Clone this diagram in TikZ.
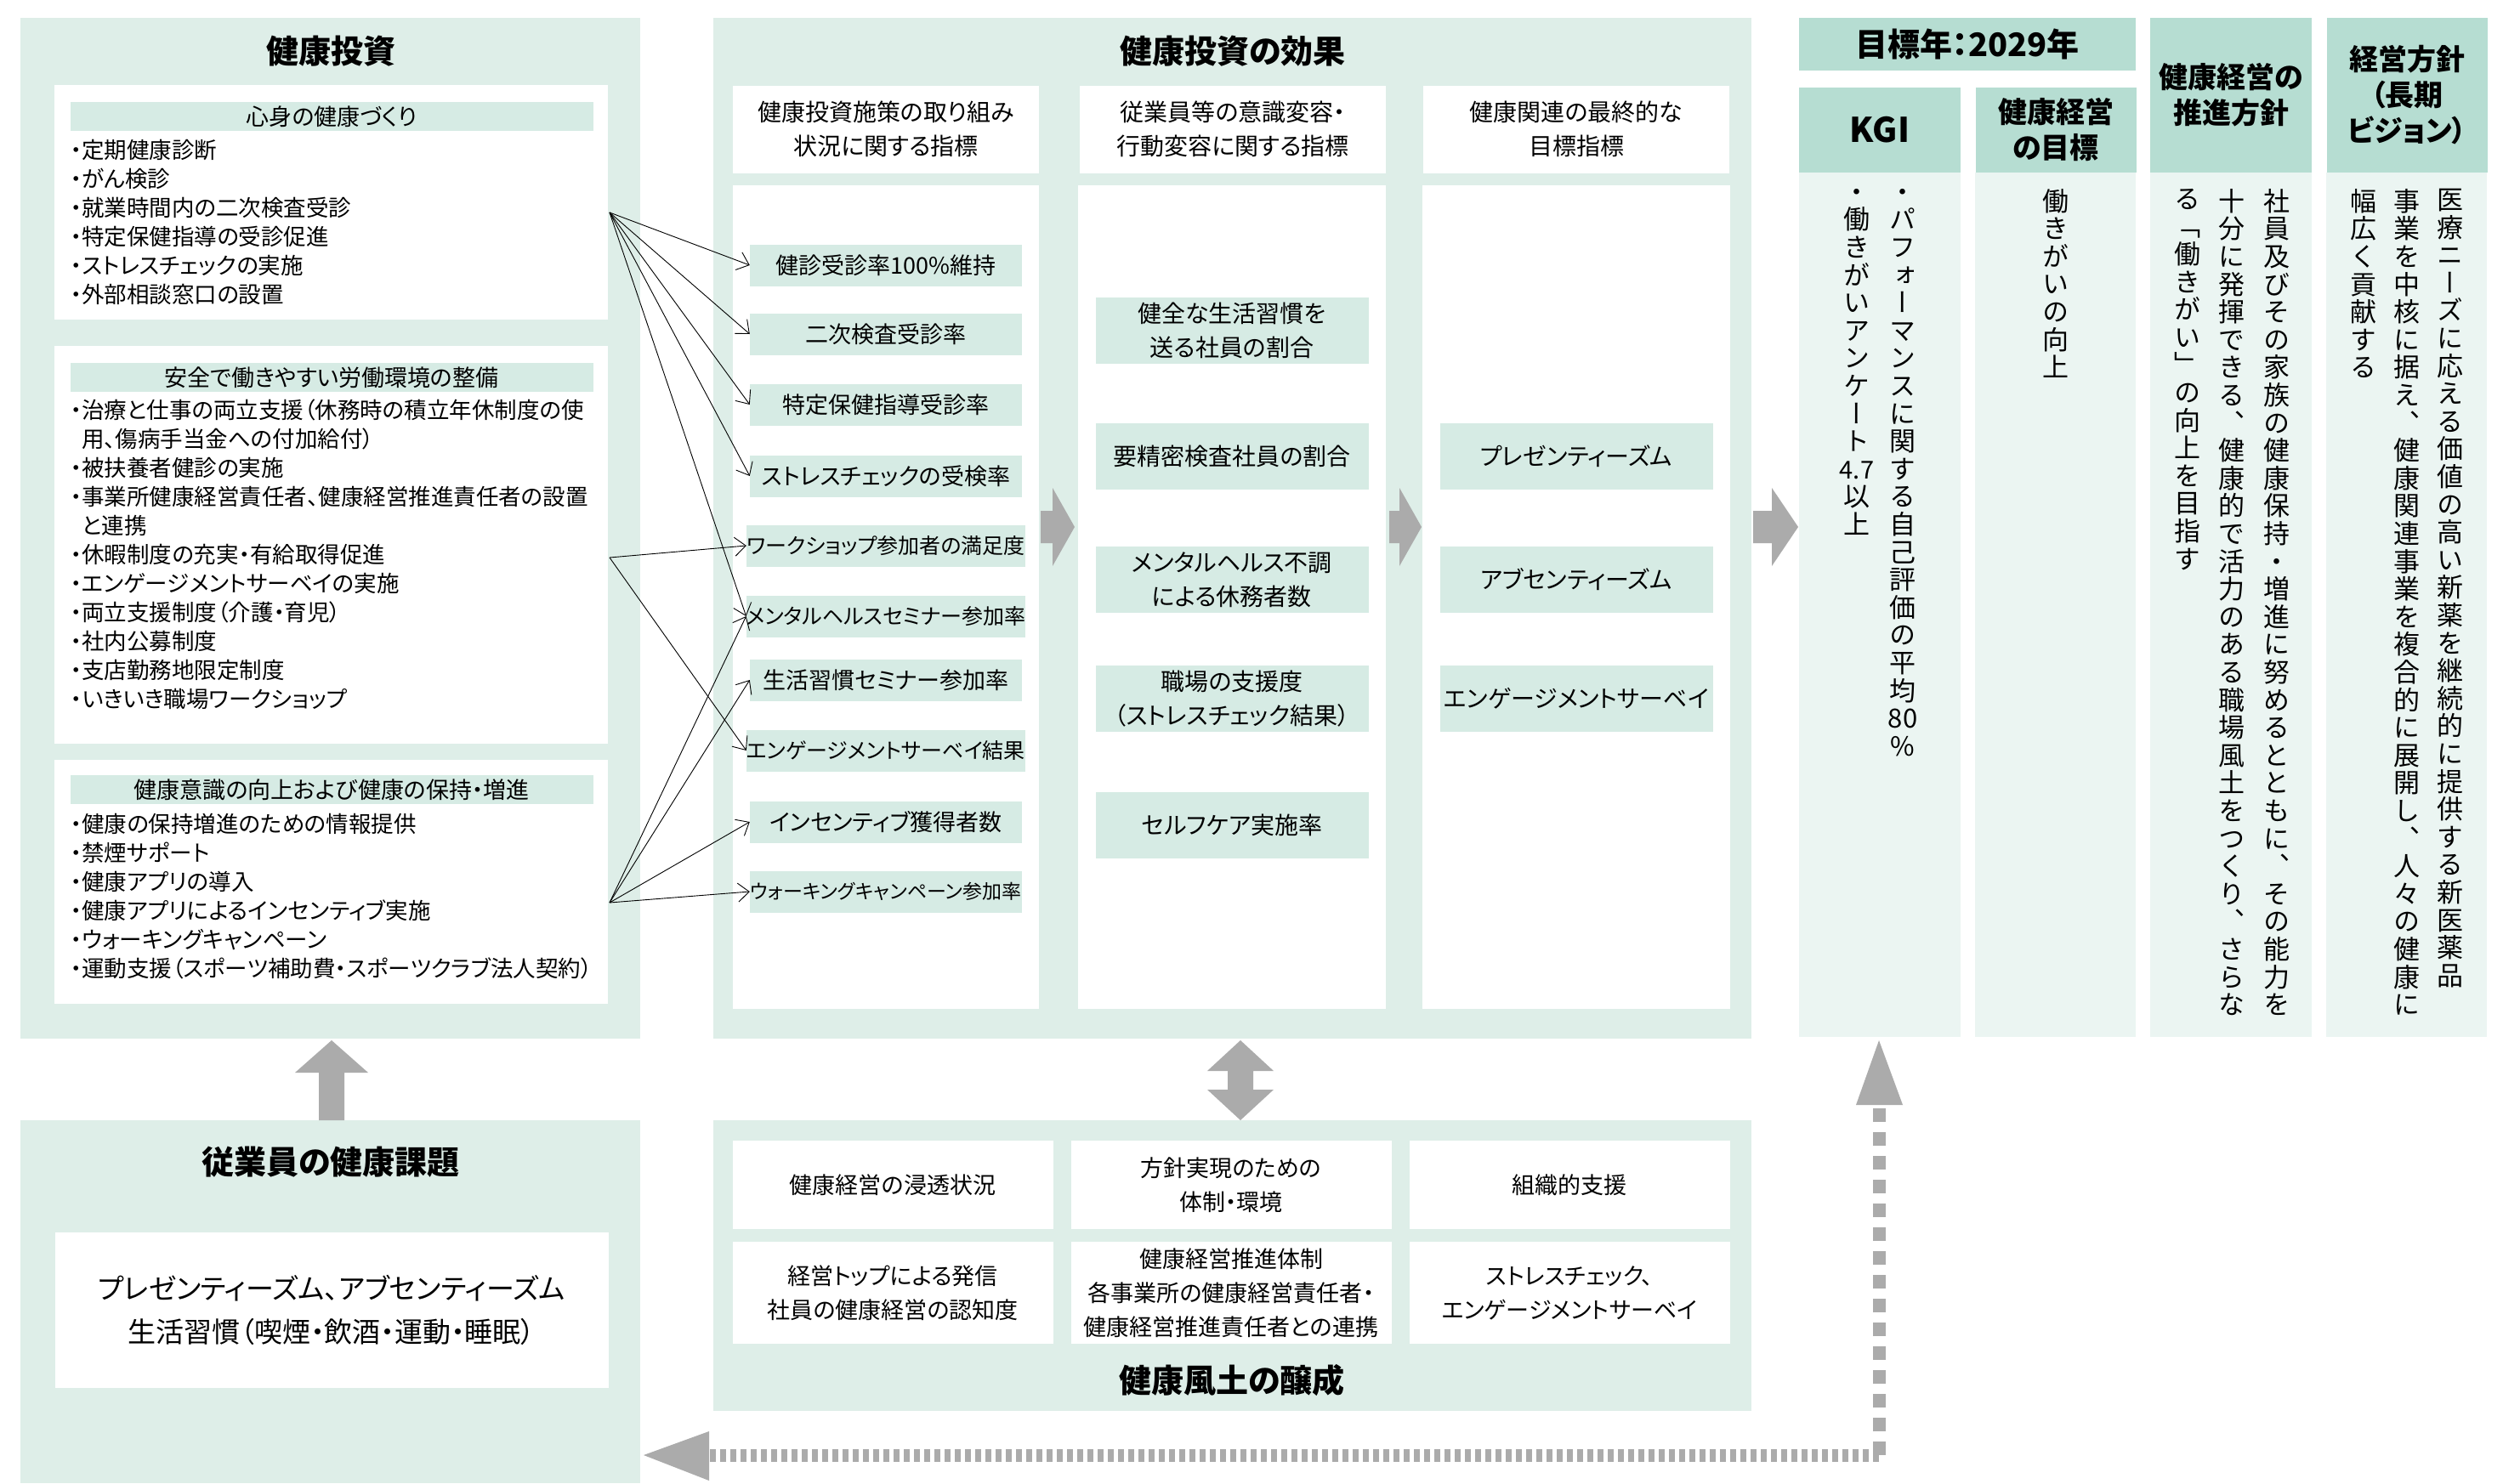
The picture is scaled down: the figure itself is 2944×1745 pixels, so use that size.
\documentclass[tikz,border=0pt]{standalone}
\usepackage{fontspec}
\setmainfont[RawFeature={+palt}]{Noto Sans CJK JP}
\newfontfamily\vjp[RawFeature={+vert}]{Noto Sans CJK JP}
\usetikzlibrary{arrows.meta}
\definecolor{panel}{HTML}{DEEEE8}
\definecolor{itembg}{HTML}{D6EBE4}
\definecolor{band}{HTML}{B6DDD2}
\definecolor{light}{HTML}{EBF5F2}
\definecolor{fat}{HTML}{ABABAB}
\ExplSyntaxOn
\NewDocumentCommand\vcol{m}{
  \vbox{\baselineskip=32.6pt \lineskiplimit=-100pt \lineskip=0pt
    \tl_map_inline:nn {#1} { \hbox_to_wd:nn {1em} {\hss ##1 \hss} } }
}
\ExplSyntaxOff
\begin{document}
\begin{tikzpicture}[x=1pt,y=-1pt,
  pnl/.style={fill=panel,draw=none},
  wht/.style={fill=white,draw=none},
  ttl/.style={font=\bfseries\fontsize{38}{42}\selectfont,inner sep=0},
  lst/.style={font=\fontsize{26.5}{34}\selectfont,align=left,anchor=north west,inner sep=0},
  hb/.style={fill=itembg,minimum width=615pt,minimum height=34pt,inner sep=0,font=\fontsize{27}{30}\selectfont},
  it1/.style={fill=itembg,minimum width=320pt,minimum height=49pt,inner sep=0,font=\fontsize{27}{30}\selectfont},
  it2/.style={fill=itembg,minimum width=321pt,minimum height=78pt,inner sep=0,align=center,font=\fontsize{28}{40}\selectfont},
  chd/.style={fill=white,minimum width=360pt,minimum height=103pt,inner sep=0,align=center,font=\fontsize{28}{40}\selectfont},
  cell/.style={fill=white,minimum width=377pt,inner sep=0,align=center,font=\fontsize{27}{40}\selectfont},
  con/.style={line width=0.9pt,-{Straight Barb[length=13pt,width=22pt]}},
  vt/.style={font=\vjp\fontsize{31}{33}\selectfont,anchor=north,inner sep=0},
  rh/.style={fill=band,inner sep=0,align=center,font=\bfseries\fontsize{34}{42}\selectfont},
  fa/.style={fill=fat,draw=none}]
\useasboundingbox (0,0) rectangle (2944,1745);
\fill[white] (0,0) rectangle (2944,1745);

% ===== left panel
\fill[pnl] (24,21) rectangle (753,1222);
\node[ttl] (t1) at (389,60) {健康投資};
\fill[wht] (64,100) rectangle (715,376);
\fill[wht] (64,407) rectangle (715,875);
\fill[wht] (64,894) rectangle (715,1181);
\node[hb] (h1) at (390,137) {心身の健康づくり};
\node[hb] (h2) at (390,444) {安全で働きやすい労働環境の整備};
\node[hb] (h3) at (390,929) {健康意識の向上および健康の保持・増進};
\node[lst] (l1) at (83,164) {・定期健康診断\\・がん検診\\・就業時間内の二次検査受診\\・特定保健指導の受診促進\\・ストレスチェックの実施\\・外部相談窓口の設置};
\node[lst] (l2) at (83,470) {・治療と仕事の両立支援（休務時の積立年休制度の使\\\hspace*{13pt}用、傷病手当金への付加給付）\\・被扶養者健診の実施\\・事業所健康経営責任者、健康経営推進責任者の設置\\\hspace*{13pt}と連携\\・休暇制度の充実・有給取得促進\\・エンゲージメントサーベイの実施\\・両立支援制度（介護・育児）\\・社内公募制度\\・支店勤務地限定制度\\・いきいき職場ワークショップ};
\node[lst] (l3) at (83,957) {・健康の保持増進のための情報提供\\・禁煙サポート\\・健康アプリの導入\\・健康アプリによるインセンティブ実施\\・ウォーキングキャンペーン\\・運動支援（スポーツ補助費・スポーツクラブ法人契約）};
\coordinate (o1) at (717,250);
\coordinate (o2) at (717,656);
\coordinate (o3) at (717,1062);

% ===== middle panel
\fill[pnl] (839,21) rectangle (2060,1222);
\node[ttl] (t2) at (1450,60) {健康投資の効果};
\node[chd] (c1) at (1042,152) {健康投資施策の取り組み\\状況に関する指標};
\node[chd] (c2) at (1450,152) {従業員等の意識変容・\\行動変容に関する指標};
\node[chd] (c3) at (1854,152) {健康関連の最終的な\\目標指標};
\fill[wht] (862,218) rectangle (1222,1187);
\fill[wht] (1268,218) rectangle (1630,1187);
\fill[wht] (1673,218) rectangle (2035,1187);
\node[it1] (a1) at (1042,312) {健診受診率100\%維持};
\node[it1] (a2) at (1042,393) {二次検査受診率};
\node[it1] (a3) at (1042,476) {特定保健指導受診率};
\node[it1] (a4) at (1042,560) {ストレスチェックの受検率};
\node[it1] (a5) at (1042,642) {\fontsize{25}{30}\selectfont ワークショップ参加者の満足度};
\node[it1] (a6) at (1042,725) {\fontsize{25}{30}\selectfont メンタルヘルスセミナー参加率};
\node[it1] (a7) at (1042,800) {生活習慣セミナー参加率};
\node[it1] (a8) at (1042,883) {\fontsize{25}{30}\selectfont エンゲージメントサーベイ結果};
\node[it1] (a9) at (1042,967) {インセンティブ獲得者数};
\node[it1] (a10) at (1042,1049) {\fontsize{23}{30}\selectfont ウォーキングキャンペーン参加率};
\node[it2] (b1) at (1449,389) {健全な生活習慣を\\送る社員の割合};
\node[it2] (b2) at (1449,537) {要精密検査社員の割合};
\node[it2] (b3) at (1449,682) {メンタルヘルス不調\\による休務者数};
\node[it2] (b4) at (1449,822) {職場の支援度\\（ストレスチェック結果）};
\node[it2] (b5) at (1449,971) {セルフケア実施率};
\node[it2] (d1) at (1854,537) {プレゼンティーズム};
\node[it2] (d2) at (1854,682) {アブセンティーズム};
\node[it2] (d3) at (1854,822) {エンゲージメントサーベイ};

% connectors
\foreach \t in {a1,a2,a3,a4,a6} \draw[con] (o1) -- (\t.west);
\foreach \t in {a5,a8} \draw[con] (o2) -- (\t.west);
\foreach \t in {a6,a7,a9,a10} \draw[con] (o3) -- (\t.west);

% fat arrows between columns
\fill[fa] (1224,601) -- (1238,601) -- (1238,574) -- (1264,620) -- (1238,666) -- (1238,639) -- (1224,639) -- cycle;
\fill[fa] (1634,601) -- (1646,601) -- (1646,574) -- (1672,620) -- (1646,666) -- (1646,639) -- (1634,639) -- cycle;
\fill[fa] (2062,601) -- (2084,601) -- (2084,574) -- (2115,620) -- (2084,666) -- (2084,639) -- (2062,639) -- cycle;

% ===== right columns
\node[rh,minimum width=396pt,minimum height=62pt,font=\bfseries\fontsize{38}{42}\selectfont] (yr) at (2314,52) {目標年：2029年};
\node[rh,minimum width=190pt,minimum height=100pt,font=\bfseries\fontsize{40}{42}\selectfont] (kgi) at (2211,153) {KGI};
\node[rh,minimum width=189pt,minimum height=100pt] (mk) at (2418,153) {健康経営\\の目標};
\node[rh,minimum width=190pt,minimum height=182pt] (sp) at (2624,112) {健康経営の\\推進方針};
\node[rh,minimum width=189pt,minimum height=182pt] (vs) at (2831,112) {経営方針\\（長期\\ビジョン）};
\fill[light] (2116,203) rectangle (2306,1220);
\fill[light] (2323,203) rectangle (2512,1220);
\fill[light] (2529,203) rectangle (2719,1220);
\fill[light] (2736,203) rectangle (2925,1220);
\node[vt] (k1) at (2238,222) {\vcol{・パフォーマンスに関する自己評価の平均{80}{\%}}};
\node[vt] (k2) at (2184,222) {\vcol{・働きがいアンケート{\fontsize{29}{29}\selectfont 4.7}以上}};
\node[vt] (m1) at (2418,222) {\vcol{働きがいの向上}};
\node[vt] (s1) at (2678,222) {\vcol{社員及びその家族の健康保持・増進に努めるとともに、その能力を}};
\node[vt] (s2) at (2625,222) {\vcol{十分に発揮できる、健康的で活力のある職場風土をつくり、さらな}};
\node[vt] (s3) at (2573,222) {\vcol{る「働きがい」の向上を目指す}};
\node[vt] (v1) at (2882,222) {\vcol{医療ニーズに応える価値の高い新薬を継続的に提供する新医薬品}};
\node[vt] (v2) at (2831,222) {\vcol{事業を中核に据え、健康関連事業を複合的に展開し、人々の健康に}};
\node[vt] (v3) at (2780,222) {\vcol{幅広く貢献する}};

% ===== bottom left
\fill[pnl] (24,1318) rectangle (753,1745);
\node[ttl] (t3) at (389,1367) {従業員の健康課題};
\node[wht,minimum width=651pt,minimum height=183pt,align=center,inner sep=0,font=\fontsize{33}{51}\selectfont] (iss) at (390,1541) {プレゼンティーズム、アブセンティーズム\\生活習慣（喫煙・飲酒・運動・睡眠）};
\fill[fa] (375,1318) -- (375,1262) -- (347,1262) -- (390,1224) -- (433,1262) -- (405,1262) -- (405,1318) -- cycle;

% ===== bottom middle
\fill[pnl] (839,1318) rectangle (2060,1660);
\node[cell,minimum height=104pt] (e1) at (1050,1394) {健康経営の浸透状況};
\node[cell,minimum height=104pt] (e2) at (1448,1394) {方針実現のための\\体制・環境};
\node[cell,minimum height=104pt] (e3) at (1846,1394) {組織的支援};
\node[cell,minimum height=120pt] (f1) at (1050,1521) {経営トップによる発信\\社員の健康経営の認知度};
\node[cell,minimum height=120pt] (f2) at (1448,1521) {健康経営推進体制\\各事業所の健康経営責任者・\\健康経営推進責任者との連携};
\node[cell,minimum height=120pt] (f3) at (1846,1521) {ストレスチェック、\\エンゲージメントサーベイ};
\node[ttl] (t4) at (1449,1624) {健康風土の醸成};
\fill[fa] (1444,1260) -- (1420,1260) -- (1459,1224) -- (1498,1260) -- (1474,1260) -- (1474,1282) -- (1498,1282) -- (1459,1318) -- (1420,1282) -- (1444,1282) -- cycle;

% ===== dashed feedback arrow
\coordinate (dv) at (2210,1712);
\coordinate (dt) at (2210,1300);
\coordinate (dh) at (830,1712);
\draw[fat,line width=15pt,dash pattern=on 16pt off 12pt] (dv) -- (dt);
\draw[fat,line width=15pt,dash pattern=on 7pt off 5pt] (dv) -- (dh);
\fill[fa] (2183,1300) -- (2210,1224) -- (2238,1300) -- cycle;
\fill[fa] (834,1684) -- (757,1712) -- (834,1742) -- cycle;
\end{tikzpicture}
\end{document}
